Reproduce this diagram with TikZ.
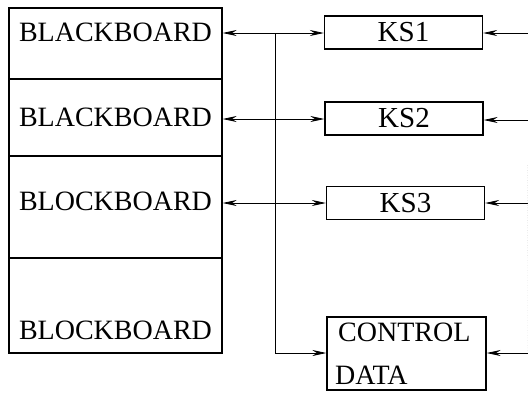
\documentclass[tikz,border=0pt]{standalone}
\usepackage{fontspec}
\setmainfont{Liberation Serif}
\usetikzlibrary{arrows.meta}
\begin{document}
\begin{tikzpicture}[x=1pt,y=-1pt,
  cell/.style={draw, line width=1.3pt, minimum width=213pt, inner sep=0pt},
  ksbox/.style={draw, line width=1.3pt, minimum width=158pt, minimum height=33pt, inner sep=0pt, font=\fontsize{29}{32}\selectfont},
  lab/.style={inner sep=0pt, font=\fontsize{28}{31}\selectfont},
  conn/.style={line width=0.8pt},
  arr/.style={line width=0.8pt, -{Stealth[length=14pt,width=6pt]}}]
\useasboundingbox (0,0) rectangle (528,392);
% left stack
\node[cell, minimum height=71pt] (r1) at (115.5,43.5) {};
\node[cell, minimum height=77pt] (r2) at (115.5,117.5) {};
\node[cell, minimum height=102pt] (r3) at (115.5,207) {};
\node[cell, minimum height=95pt] (r4) at (115.5,305.5) {};
\node[lab] (t1) at (115.5,32) {BLACKBOARD};
\node[lab] (t2) at (115.5,117.5) {BLACKBOARD};
\node[lab] (t3) at (115.5,201.5) {BLOCKBOARD};
\node[lab] (t4) at (115.5,330) {BLOCKBOARD};
% KS boxes
\node[ksbox] (ks1) at (403.5,32.5) {KS1};
\node[ksbox] (ks2) at (404,118.5) {KS2};
\node[ksbox] (ks3) at (405.5,203) {KS3};
\node[draw, line width=1.3pt, minimum width=159pt, minimum height=73pt, inner sep=0pt] (cd) at (406.5,353.5) {};
\node[lab, anchor=west] (cdt1) at (338,332) {CONTROL};
\node[lab, anchor=west] (cdt2) at (335,375) {DATA};
% bus
\coordinate (b1) at (275,33);
\coordinate (b2) at (275,119);
\coordinate (b3) at (275,203);
\coordinate (b4) at (275,353);
\draw[conn] (b1) -- (b4);
\draw[arr] (b1) -- (b1 -| r1.east);
\draw[arr] (b2) -- (b2 -| r2.east);
\draw[arr] (b3) -- (b3 -| r3.east);
\draw[arr] (b1) -- (b1 -| ks1.west);
\draw[arr] (b2) -- (b2 -| ks2.west);
\draw[arr] (b3) -- (b3 -| ks3.west);
\draw[arr] (b4) -- (b4 -| cd.west);
% right side
\coordinate (e1) at (528,33);
\coordinate (e2) at (528,120);
\coordinate (e3) at (528,203);
\coordinate (e4) at (528,353);
\draw[arr] (e1) -- (e1 -| ks1.east);
\draw[arr] (e2) -- (e2 -| ks2.east);
\draw[arr] (e3) -- (e3 -| ks3.east);
\draw[arr] (e4) -- (e4 -| cd.east);
\draw[gray!40, line width=0.5pt, dotted] (527.5,165) -- (e4);
\end{tikzpicture}
\end{document}
